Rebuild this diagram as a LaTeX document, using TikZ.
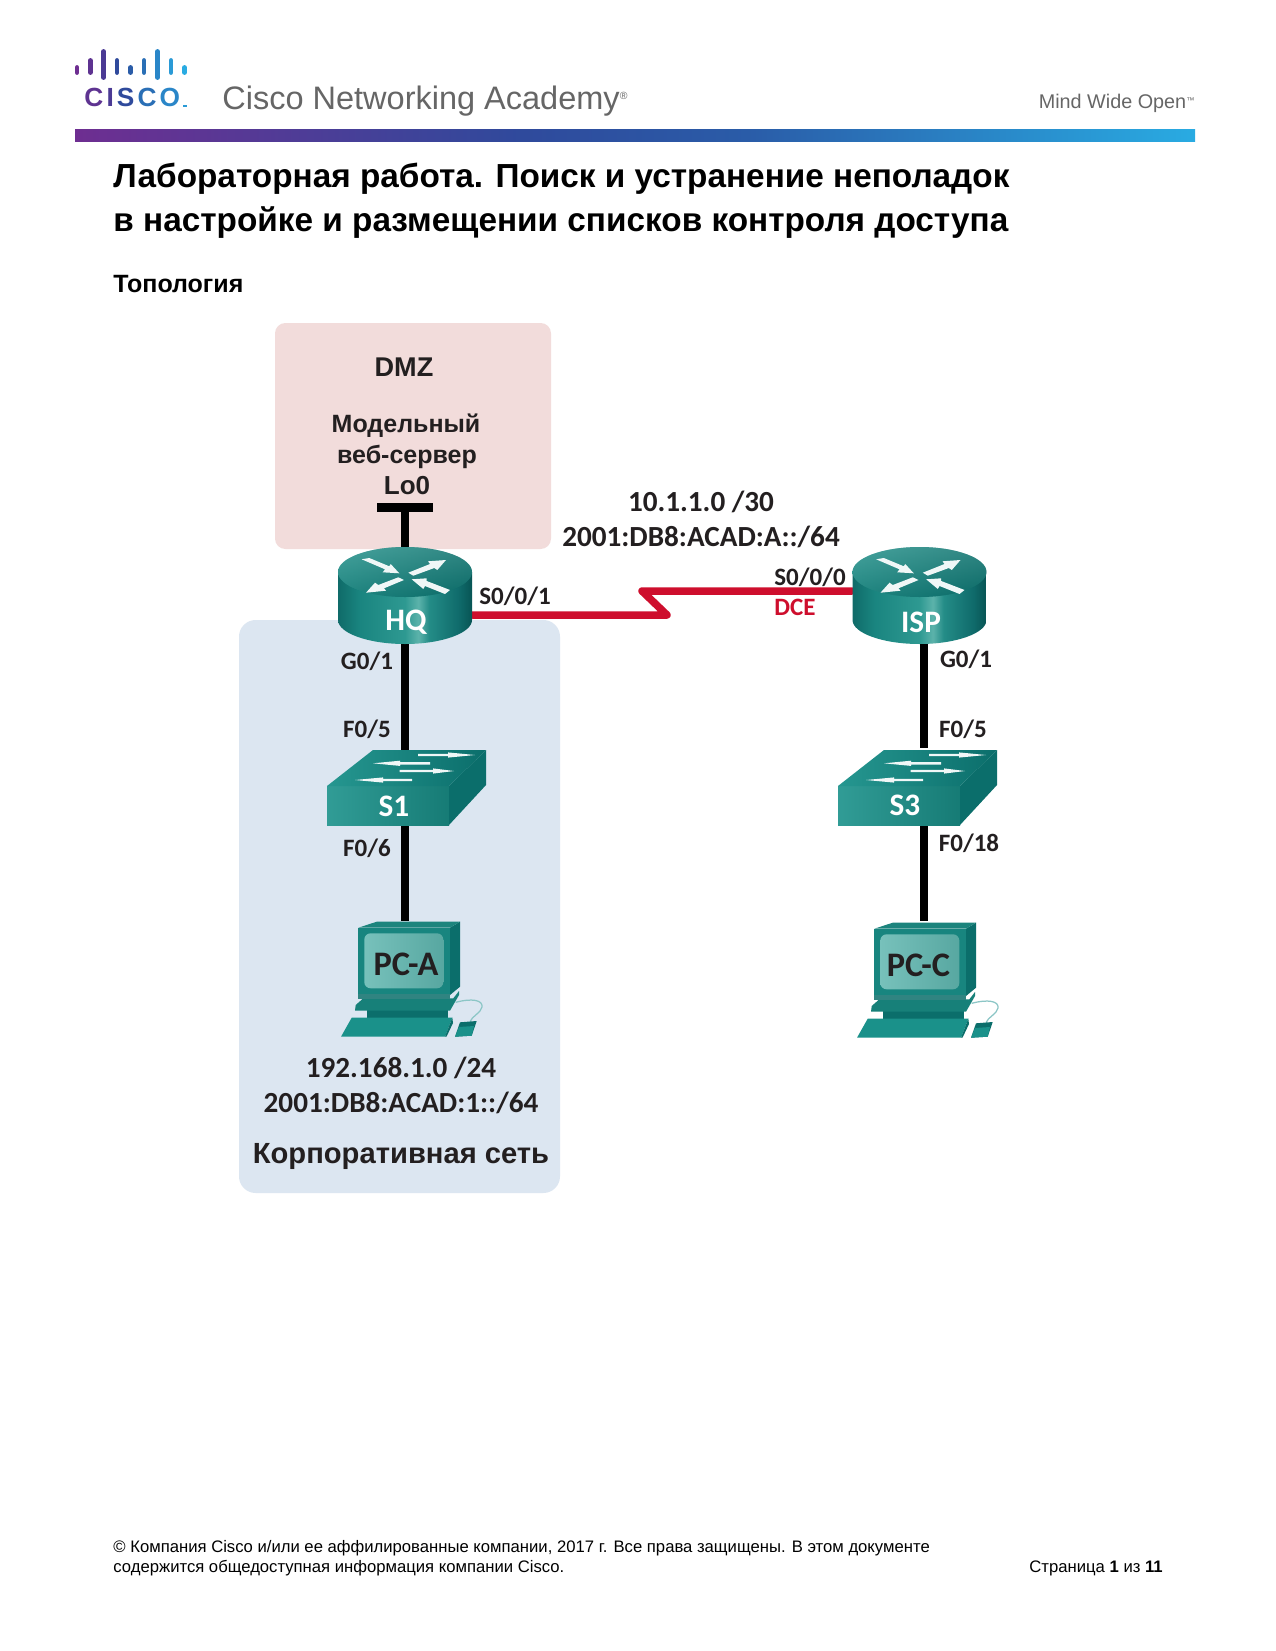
\documentclass[tikz,border=0pt]{standalone}
\usepackage{fontspec}
\setmainfont{Liberation Sans}
\newfontfamily\calf{Carlito}
\usetikzlibrary{arrows.meta}
\definecolor{tealfront}{HTML}{1A918A}
\definecolor{tealdark}{HTML}{0B6E6B}
\definecolor{tealmid}{HTML}{1E8F88}
\definecolor{tealscreen}{HTML}{5FB6AF}
\definecolor{serialred}{HTML}{CE0E2D}
\definecolor{dmzfill}{HTML}{F2DCDB}
\definecolor{lanfill}{HTML}{DCE6F1}
\definecolor{darktxt}{HTML}{231F20}
\definecolor{graytxt}{HTML}{666666}
\definecolor{b1}{HTML}{6E2E91}
\definecolor{b2}{HTML}{5E3391}
\definecolor{b3}{HTML}{4B3A94}
\definecolor{b4}{HTML}{2F4A9C}
\definecolor{b5}{HTML}{2A5CA8}
\definecolor{b6}{HTML}{2A6FB6}
\definecolor{b7}{HTML}{2A86C8}
\definecolor{b8}{HTML}{2A9AD6}
\definecolor{b9}{HTML}{29ABE2}
\pgfdeclarehorizontalshading{barshade}{100bp}{color(0bp)=(b1); color(25bp)=(b1); color(45bp)=(b4); color(55bp)=(b5); color(75bp)=(b9); color(100bp)=(b9)}
\pgfdeclarehorizontalshading{routerside}{100bp}{rgb(0bp)=(0.06,0.42,0.41); rgb(25bp)=(0.06,0.42,0.41); rgb(33bp)=(0.10,0.52,0.50); rgb(50bp)=(0.18,0.60,0.57); rgb(55bp)=(0.36,0.70,0.67); rgb(59bp)=(0.14,0.55,0.53); rgb(70bp)=(0.06,0.42,0.42); rgb(75bp)=(0.03,0.33,0.33); rgb(100bp)=(0.03,0.33,0.33)}
\tikzset{
  x=0.48pt,y=-0.48pt,
  wire/.style={line width=3.6pt,black},
  serial/.style={line width=3.6pt,serialred,line join=round,line cap=round},
  devbox/.style={inner sep=0pt,outer sep=0pt,draw=none,fill=none},
  devlabel/.style={font=\calf\bfseries\fontsize{15}{15}\selectfont,white,inner sep=0pt},
  pclabel/.style={font=\calf\bfseries\fontsize{16.5}{16.5}\selectfont,darktxt,inner sep=0pt},
  portlabel/.style={font=\calf\bfseries\fontsize{12}{12}\selectfont,darktxt,inner sep=0pt},
  netlabel/.style={font=\calf\bfseries\fontsize{14}{14}\selectfont,darktxt,inner sep=0pt},
  arialabel/.style={font=\bfseries\fontsize{12}{12}\selectfont,darktxt,inner sep=0pt,anchor=base},
  titletext/.style={font=\bfseries\fontsize{16}{16}\selectfont,black,inner sep=0pt,anchor=base west},
  foottext/.style={font=\fontsize{8}{8}\selectfont,black,inner sep=0pt,anchor=base west},
  arrowfill/.style={fill=white!94!teal},
  logobar/.style={line width=2.3pt,line cap=round},
}
\newcommand{\swtarrow}[4]{\fill[arrowfill] (#1,#4-1.2) -- (#2,#4-1.2) -- (#2,#4-2.6) -- (#3,#4) -- (#2,#4+2.6) -- (#2,#4+1.2) -- (#1,#4+1.2) -- cycle;}
% router: centre of top face
\newcommand{\routerart}[1]{%
\begin{scope}[shift={(#1)}]
  \path[shading=routerside] (-67,0) -- (-67,48) .. controls (-67,61) and (-37,72) .. (0,72) .. controls (37,72) and (67,61) .. (67,48) -- (67,0) -- cycle;
  \path[left color=tealmid!92!white,right color=tealdark!92!black] (0,0) ellipse [x radius=67,y radius=25];
  \path[top color=tealmid!70!white,bottom color=tealdark,opacity=.45] (0,0) ellipse [x radius=67,y radius=25];
  \fill[arrowfill] (-43.3,-12.7) -- (-35.7,-14) -- (-15.7,-5.7) -- (-14.3,-8) -- (-5.7,1.3) -- (-22.3,0.3) -- (-20,-2.7) -- cycle;
  \fill[arrowfill] (3.3,0.7) -- (25,-8) -- (23,-10.7) -- (41,-12) -- (32.3,-2) -- (29.3,-4) -- (8.3,3.7) -- cycle;
  \fill[arrowfill] (-6.7,5.3) -- (-1,8) -- (-21,16.3) -- (-19,18.7) -- (-39,20.7) -- (-30,10.7) -- (-26.7,13) -- cycle;
  \fill[arrowfill] (45,18) -- (40,22) -- (20,14) -- (18.3,17) -- (6.7,7.3) -- (21.7,6.3) -- (21.7,9) -- cycle;
\end{scope}}
% switch: top-left of front face
\newcommand{\switchart}[1]{%
\begin{scope}[shift={(#1)}]
  \path[left color=tealfront!90!white,right color=tealfront!85!black] (0,0) rectangle (122,39);
  \fill[tealdark] (122,0) -- (159,-36) -- (159,-1) -- (122,39) -- cycle;
  \path[left color=tealfront!95!white,right color=tealdark] (0,0) -- (46,-36) -- (159,-36) -- (122,0) -- cycle;
  \swtarrow{91}{121}{148}{-31}
  \swtarrow{103}{73}{46}{-22.7}
  \swtarrow{72.7}{106}{127}{-15}
  \swtarrow{85}{56}{28}{-6}
\end{scope}}
% pc: origin offset, px from there
\newcommand{\pcart}[1]{%
\begin{scope}[shift={(#1)}]
  \draw[white!55!teal,line width=.6pt] (205.7,122.3) .. controls (222,118) and (233,120) .. (232,127) .. controls (231,133) and (222,136) .. (220,141.7);
  \fill[tealdark] (205,156.7) -- (210,142.3) -- (226.7,141) -- (221.7,155.7) -- cycle;
  \fill[tealfront] (205,156.7) -- (209,147) -- (224,146) -- (221.7,155.7) -- cycle;
  \fill[tealdark] (116.7,130) rectangle (198.3,138);
  \fill[tealfront] (101.7,137.7) -- (202.3,137.7) -- (195,156.7) -- (91,156.7) -- cycle;
  \fill[tealdark] (202.3,137.7) -- (203,143) -- (196.5,156.7) -- (195,156.7) -- cycle;
  \fill[tealfront!88!black] (113.3,118.3) -- (203.3,118.3) -- (209,111) -- (209,115) -- (200,130.7) -- (105,130.7) -- (105.7,125) -- cycle;
  \fill[tealdark] (210,41.7) -- (210,106.7) -- (200,115) -- (200,47.7) -- cycle;
  \fill[tealmid!92!black] (108.3,47.7) -- (126.7,41.7) -- (210,41.7) -- (200,47.7) -- cycle;
  \fill[tealfront!92!black] (108.3,47.7) rectangle (200,116);
  \fill[tealdark!85!white] (108.3,114) rectangle (200,119);
  \path[left color=tealscreen!85!white,right color=tealscreen!92!black,rounded corners=3pt] (114.3,53.3) rectangle (193.3,108.3);
\end{scope}}
\begin{document}
\begin{tikzpicture}
\useasboundingbox (0,0) rectangle (1275,1651);
\fill[white] (0,0) rectangle (1275,1651);

% header
\draw[logobar,b1] (77,67.5) -- (77,72.5);
\draw[logobar,b2] (90.3,60.5) -- (90.3,72.5);
\draw[logobar,b3] (103.7,51.5) -- (103.7,77.5);
\draw[logobar,b4] (117,60.5) -- (117,72.5);
\draw[logobar,b5] (130.7,67.5) -- (130.7,72.5);
\draw[logobar,b6] (144,60.5) -- (144,72.5);
\draw[logobar,b7] (157.7,51.5) -- (157.7,77.5);
\draw[logobar,b8] (171,60.5) -- (171,72.5);
\draw[logobar,b9] (184.7,67.5) -- (184.7,72.5);
\node[inner sep=0pt,anchor=base west,font=\bfseries\fontsize{12.6}{12.6}\selectfont] (ciscoword) at (84,107)
  {{\color{b2}C}\kern1.5pt{\color{b3}I}\kern1.5pt{\color{b4}S}\kern1.5pt{\color{b6}C}\kern1.5pt{\color{b7}O}};
\fill[b8] (183,105.5) rectangle (187,107);
\node[inner sep=0pt,anchor=base west,graytxt,font=\fontsize{15.6}{15.6}\selectfont] (cna) at (222,109.5)
  {Cisco Networking Academy\raisebox{4.6pt}{\fontsize{5}{5}\selectfont®}};
\node[inner sep=0pt,anchor=base east,graytxt,font=\fontsize{9.5}{9.5}\selectfont] (mwo) at (1195,109)
  {Mind Wide Open\raisebox{2.8pt}{\fontsize{4}{4}\selectfont™}};
\path[shading=barshade] (75,130) rectangle (1195,142);

% titles
\node[titletext] (title1) at (113,188) {Лабораторная работа. Поиск и устранение неполадок};
\node[titletext] (title2) at (113,232) {в настройке и размещении списков контроля доступа};
\node[titletext,font=\bfseries\fontsize{12}{12}\selectfont] (topo) at (113,292) {Топология};

% zones
\fill[dmzfill,rounded corners=5pt] (275,323) rectangle (551,549);
\fill[lanfill,rounded corners=8pt] (239,620) rectangle (560,1193);

% device anchors
\node[devbox,minimum width=135*0.48pt,minimum height=96*0.48pt] (HQ) at (405,596) {};
\node[devbox,minimum width=135*0.48pt,minimum height=96*0.48pt] (ISP) at (919.5,596) {};
\node[devbox,minimum width=1pt,minimum height=75*0.48pt] (S1) at (405,787.5) {};
\node[devbox,minimum width=1pt,minimum height=76*0.48pt] (S3) at (924,786) {};
\node[devbox,minimum width=1pt,minimum height=76*0.48pt] (PCA) at (405,959) {};
\node[devbox,minimum width=1pt,minimum height=76*0.48pt] (PCC) at (924,959) {};
\node[devbox,minimum width=56*0.48pt,minimum height=9*0.48pt] (Lo) at (405,507.5) {};
\coordinate (boltA) at (667,615);
\coordinate (boltB) at (642,591);

% connectors
\draw[wire] (Lo.south) -- (HQ.north);
\fill[black] (Lo.south west) rectangle (Lo.north east);
\draw[wire] (HQ.south) -- (S1.north);
\draw[wire] (S1.south) -- (PCA.north);
\draw[wire] (ISP.south -| S3.north) -- (S3.north);
\draw[wire] (S3.south) -- (PCC.north);
\draw[serial] (HQ.east |- boltA) -- (boltA) -- (boltB) -- (boltB -| ISP.west);

% devices
\routerart{405,572}
\routerart{919.5,572}
\switchart{327,786}
\switchart{838,786}
\pcart{250,880}
\pcart{766,881}

\node[devlabel] (HQt) at (406,622) {HQ};
\node[devlabel] (ISPt) at (921,622) {ISP};
\node[devlabel] (S1t) at (394,806) {S1};
\node[devlabel] (S3t) at (905,805) {S3};
\node[pclabel] (PCAt) at (406,964) {PC-A};
\node[pclabel] (PCCt) at (918.5,965) {PC-C};

% labels
\node[portlabel] (p1) at (515,596) {S0/0/1};
\node[portlabel] (p2) at (367,661) {G0/1};
\node[portlabel] (p3) at (367,729) {F0/5};
\node[portlabel] (p4) at (367,848) {F0/6};
\node[portlabel] (p5) at (810,577) {S0/0/0};
\node[portlabel,serialred] (p6) at (795,607) {DCE};
\node[portlabel] (p7) at (966,659) {G0/1};
\node[portlabel] (p8) at (963,729) {F0/5};
\node[portlabel] (p9) at (969,843) {F0/18};
\node[netlabel] (n1) at (701,502) {10.1.1.0 /30};
\node[netlabel] (n2) at (701,537) {2001:DB8:ACAD:A::/64};
\node[netlabel] (n3) at (401,1068) {192.168.1.0 /24};
\node[netlabel] (n4) at (401,1103) {2001:DB8:ACAD:1::/64};
\node[arialabel,font=\bfseries\fontsize{13}{13}\selectfont] (dmz) at (404,376) {DMZ};
\node[arialabel] (m1) at (406,432) {Модельный};
\node[arialabel] (m2) at (407,463) {веб-сервер};
\node[arialabel,font=\bfseries\fontsize{12.5}{12.5}\selectfont] (m3) at (407,494) {Lo0};
\node[inner sep=0pt,darktxt,font=\bfseries\fontsize{14}{14}\selectfont] (corp) at (401,1156) {Корпоративная сеть};

% footer
\node[foottext] (f1) at (113,1552) {© Компания Cisco и/или ее аффилированные компании, 2017 г. Все права защищены. В этом документе};
\node[foottext] (f2) at (113,1572) {содержится общедоступная информация компании Cisco.};
\node[foottext] (f3) at (1029,1572) {Страница \textbf{1} из \textbf{11}};
\end{tikzpicture}
\end{document}
